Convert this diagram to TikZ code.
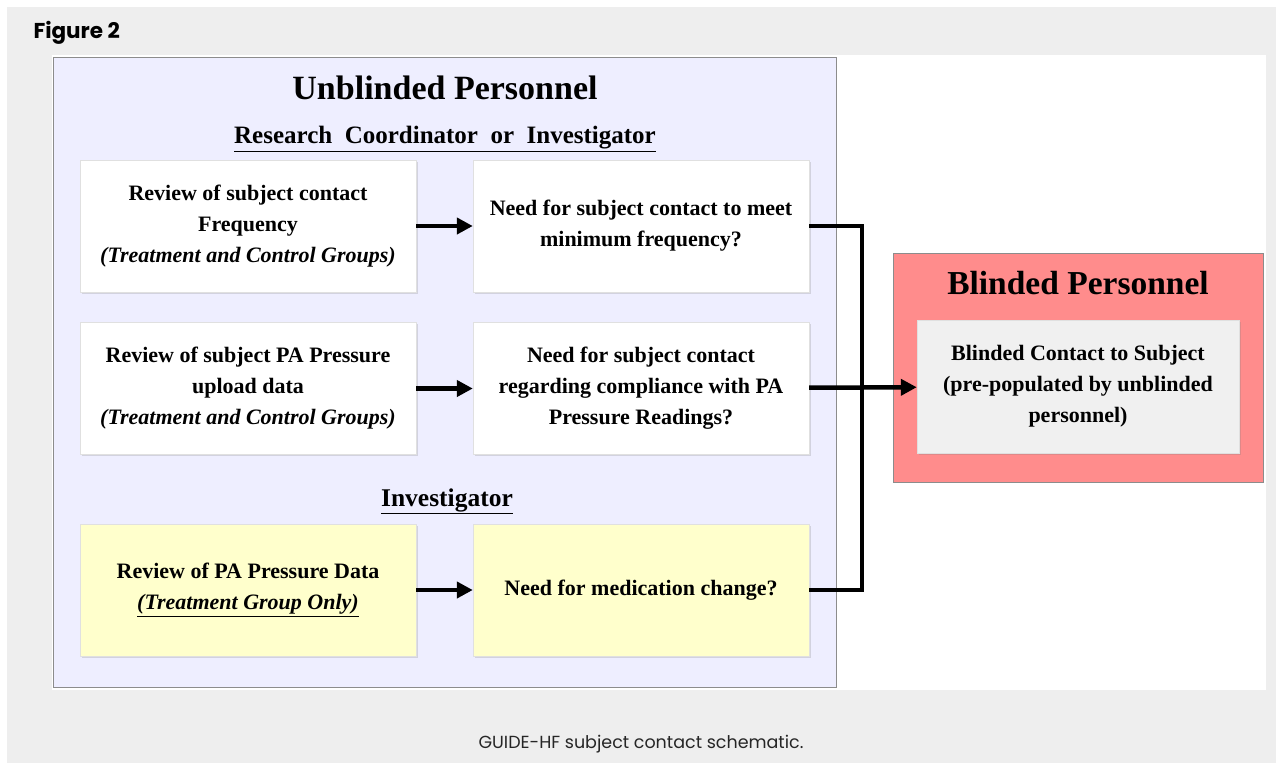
\documentclass[tikz,border=0pt]{standalone}
\usepackage{fontspec}
\setmainfont{Liberation Serif}
\newfontfamily\capfont{Poppins}
\usetikzlibrary{arrows.meta,shadows}

\definecolor{panelgray}{HTML}{EEEEEE}
\definecolor{unblindfill}{HTML}{EEEEFF}
\definecolor{blindfill}{HTML}{FF8C8C}
\definecolor{innerfill}{HTML}{F0F0F0}
\definecolor{yellowfill}{HTML}{FFFFCC}

\begin{document}
\begin{tikzpicture}[
  x=1pt, y=-1pt,
  task/.style={draw=black!12, fill=white, minimum width=336pt, minimum height=132pt,
    align=center, font=\fontsize{22}{31}\selectfont\bfseries,
    drop shadow={shadow xshift=1.5pt, shadow yshift=-1.5pt, opacity=0.25}},
  invtask/.style={task, fill=yellowfill},
  group/.style={draw=black!45, thick},
  flow/.style={line width=4.5pt, -{Triangle[length=16pt,width=16pt]}},
  busline/.style={line width=4.5pt}
]
\useasboundingbox (0,0) rectangle (1276,763);

% gray panel and white drawing area
\fill[panelgray] (7,7) rectangle (1276,763);
\fill[white] (52,55) rectangle (1266,690);

% Unblinded side
\node[group, fill=unblindfill, minimum width=783pt, minimum height=630pt] (unblind) at (444.5,372) {};
\node[font=\fontsize{34}{38}\selectfont\bfseries] (untitle) at (445,88) {Unblinded Personnel};
\node[font=\fontsize{25}{28}\selectfont\bfseries] (rc) at (445,139) {\underline{Research\ \ Coordinator\ \ or\ \ Investigator}};
\node[font=\fontsize{25.5}{28}\selectfont\bfseries] (inv) at (447,501) {\underline{Investigator}};

\node[task] (freq) at (248,226) {Review of subject contact\\Frequency\\\textit{(Treatment and Control Groups)}};
\node[task] (minfreq) at (641,226) {Need for subject contact to meet\\minimum frequency?};
\node[task] (upload) at (248,388.5) {Review of subject PA Pressure\\upload data\\\textit{(Treatment and Control Groups)}};
\node[task] (comply) at (641,388.5) {Need for subject contact\\regarding compliance with PA\\Pressure Readings?};
\node[invtask] (padata) at (248,590) {Review of PA Pressure Data\\\underline{\textit{(Treatment Group Only)}}};
\node[invtask] (medchg) at (641,590) {Need for medication change?};

% Blinded side
\node[group, fill=blindfill, minimum width=370pt, minimum height=229pt] (blind) at (1078,367.5) {};
\node[font=\fontsize{33.5}{36}\selectfont\bfseries] (bltitle) at (1078,283) {Blinded Personnel};
\node[task, fill=innerfill, minimum width=322pt, minimum height=133pt] (contact) at (1078,386.5)
  {Blinded Contact to Subject\\(pre-populated by unblinded\\personnel)};

% connectors
\coordinate (bus) at (862,0);
\draw[flow] (freq) -- (minfreq);
\draw[flow] (upload) -- (comply);
\draw[flow] (padata) -- (medchg);
\draw[busline] (minfreq.east) -| (bus |- medchg.east) -- (medchg.east);
\draw[flow] (comply) -- (contact);

% labels
\node[anchor=west, font=\capfont\bfseries\fontsize{21.5}{24}\selectfont] (fig) at (30,33) {Figure 2};
\node[font=\capfont\fontsize{17.5}{20}\selectfont, text=black!85] (cap) at (641,744) {GUIDE-HF subject contact schematic.};
\end{tikzpicture}
\end{document}
